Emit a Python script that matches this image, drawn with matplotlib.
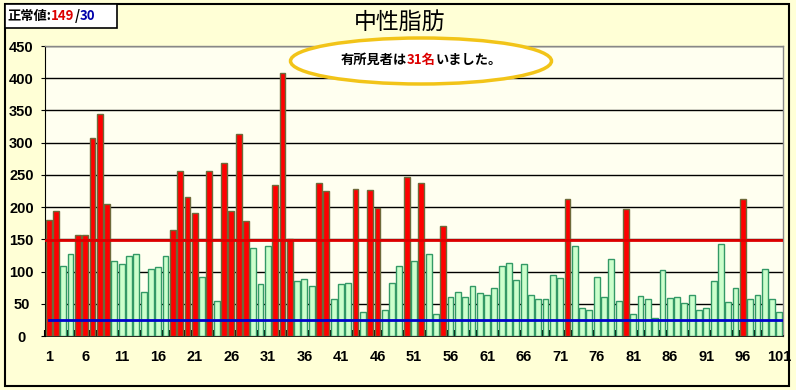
import matplotlib
matplotlib.use("Agg")
import matplotlib.pyplot as plt
from matplotlib.patches import Ellipse, Rectangle

plt.rcParams['font.family'] = ['Noto Sans CJK JP', 'DejaVu Sans']

values = [180, 194, 108, 128, 157, 157, 307, 344, 205, 116,
          112, 124, 128, 69, 104, 107, 124, 164, 256, 216,
          191, 91, 256, 55, 269, 194, 314, 178, 137, 81,
          140, 234, 408, 150, 86, 89, 78, 238, 225, 57,
          80, 83, 228, 38, 227, 198, 40, 83, 108, 247,
          116, 238, 128, 34, 170, 60, 69, 60, 78, 66,
          64, 74, 108, 114, 87, 112, 63, 57, 57, 95,
          90, 213, 139, 44, 41, 91, 60, 119, 55, 197,
          34, 62, 57, 28, 103, 59, 60, 51, 63, 40,
          44, 85, 142, 52, 74, 213, 57, 64, 104, 57, 38]
ids = list(range(1, len(values) + 1))
upper_limit = 149
lower_line = 25
y_ticks = [0, 50, 100, 150, 200, 250, 300, 350, 400, 450]
x_ticks = list(range(1, 102, 5))
title = "中性脂肪"
note_pre, note_num, note_post = "有所見者は", "31名", "いました。"

W, H = 796, 390
fig = plt.figure(figsize=(W / 100, H / 100), dpi=100)
fig.patch.set_facecolor('#FFFFD6')

ax = fig.add_axes([45 / W, (H - 336) / H, 738 / W, 290 / H])
ax.set_facecolor('#FFFFF0')

colors = ['#FF0000' if v > upper_limit else '#CCFFCC' for v in values]
edges = ['#6E6A3A' if v > upper_limit else '#339966' for v in values]
ax.bar(ids, values, width=0.8, color=colors, edgecolor=edges, linewidth=1.0, zorder=3)

ax.set_xlim(0.5, len(values) + 0.5)
ax.set_ylim(0, 450)
ax.set_yticks(y_ticks)
ax.yaxis.grid(True, color='black', linewidth=1.0, zorder=1)
ax.set_axisbelow(True)

ax.axhline(upper_limit, color='#DD0000', linewidth=2.0, zorder=4)
ax.plot([1, len(values) + 0.5], [lower_line, lower_line], color='#0000CC', linewidth=2.0, zorder=4)

# x ticks: labels at 1,6,..; minor ticks at bar boundaries
ax.set_xticks(x_ticks)
ax.set_xticklabels([str(t) for t in x_ticks], fontsize=10.5, fontweight='bold',
                   family=['Liberation Sans', 'DejaVu Sans'])
ax.tick_params(axis='x', length=0, pad=10)
ax.set_xticks([i + 0.5 for i in range(0, len(values) + 1)], minor=True)
ax.tick_params(axis='x', which='minor', length=4, direction='in', color='black', width=1.5)

ax.set_yticklabels([str(t) for t in y_ticks], fontsize=10.5, fontweight='bold',
                   family=['Liberation Sans', 'DejaVu Sans'], ha='center')
ax.tick_params(axis='y', length=3, direction='out', pad=14)

for s in ['top', 'right']:
    ax.spines[s].set_color('#888888')
    ax.spines[s].set_linewidth(1.0)
ax.spines['left'].set_color('black')
ax.spines['bottom'].set_color('black')
ax.spines['bottom'].set_linewidth(1.2)

# outer border
fig.add_artist(Rectangle((5 / W, (H - 386) / H), 784 / W, 382 / H, transform=fig.transFigure,
                         fill=False, edgecolor='black', linewidth=1.5, zorder=10))

# legend box
fig.add_artist(Rectangle((5 / W, (H - 28) / H), 112 / W, 24 / H, transform=fig.transFigure,
                         facecolor='white', edgecolor='black', linewidth=1.2, zorder=10))

renderer = fig.canvas.get_renderer()

def seq_text(x_px, y_px, parts, size, ha='left'):
    # draw colored text segments consecutively
    items = []
    x = x_px
    for txt, col in parts:
        t = fig.text(x / W, (H - y_px) / H, txt, color=col, fontsize=size, fontweight='bold',
                     va='center', ha='left', zorder=11)
        bb = t.get_window_extent(renderer=renderer)
        items.append(t)
        x += bb.width
    if ha == 'center':
        total = x - x_px
        shift = total / 2
        for t in items:
            px, py = t.get_position()
            t.set_position((px - shift / W, py))
    return items

seq_text(7, 16, [("正常値:", 'black'), ("149", '#DD0000'), ("/", 'black'), ("30", '#0000AA')], 9.5)

fig.text(400 / W, (H - 22) / H, title, fontsize=16.5, ha='center', va='center', color='black', zorder=11)

fig.add_artist(Ellipse((421 / W, (H - 61) / H), 261 / W, 46 / H, transform=fig.transFigure,
                       facecolor='white', edgecolor='#F2C418', linewidth=2.5, zorder=10))
seq_text(421, 60, [(note_pre, 'black'), (note_num, '#DD0000'), (note_post, 'black')], 9.5, ha='center')

fig.savefig('out.png', dpi=100, facecolor=fig.get_facecolor())
